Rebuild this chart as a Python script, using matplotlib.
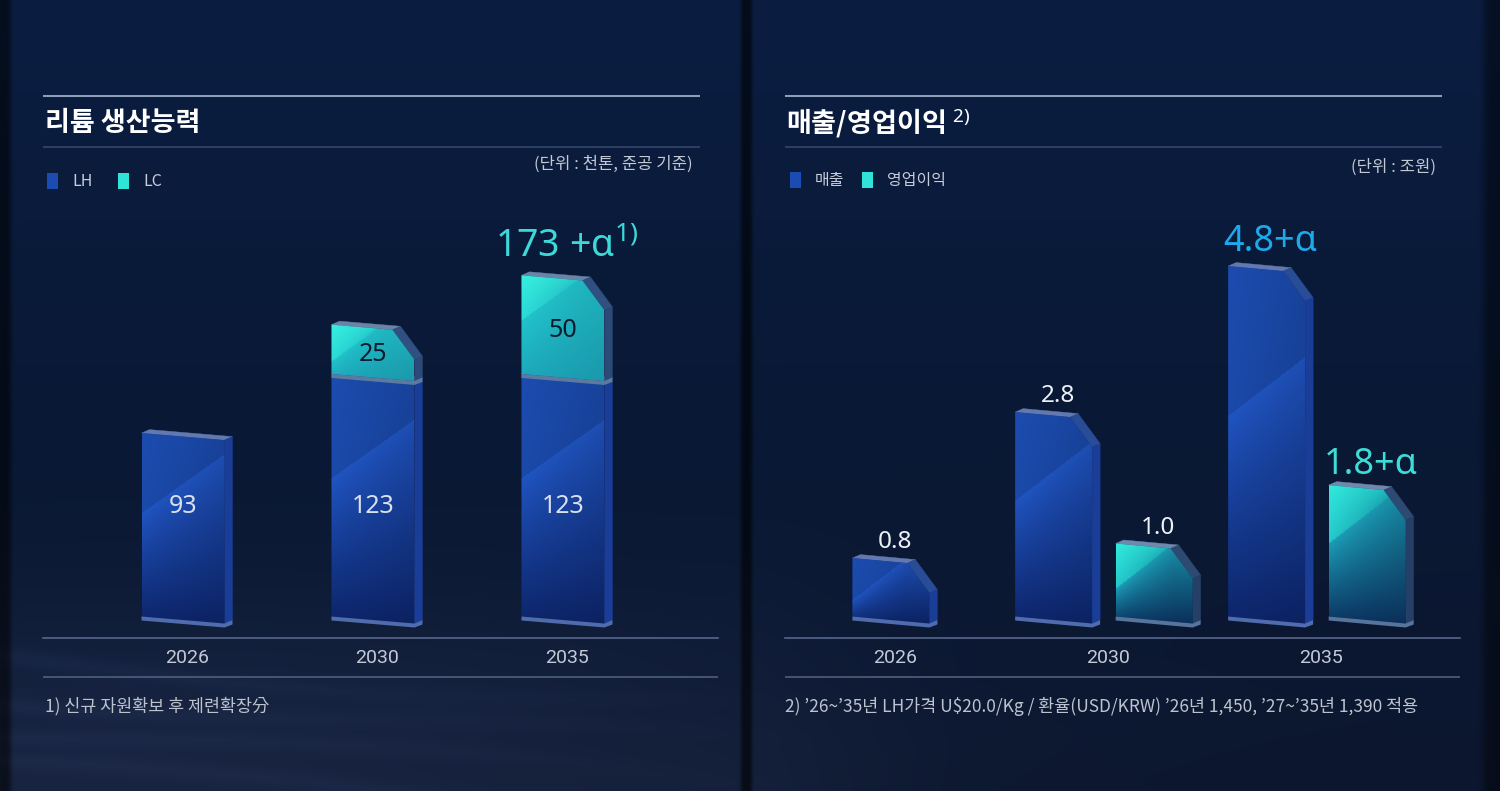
import numpy as np
import matplotlib
matplotlib.use("Agg")
import matplotlib.pyplot as plt
from matplotlib.patches import Polygon
from matplotlib.colors import to_rgb

# ---------------- data ----------------
years = ["2026", "2030", "2035"]
lh_capacity = [93, 123, 123]          # 천톤
lc_capacity = [0, 25, 50]             # 천톤
capacity_top_label = "173 +α"
revenue = [0.8, 2.8, 4.8]             # 조원
op_profit = [None, 1.0, 1.8]          # 조원
revenue_labels = ["0.8", "2.8", "4.8+α"]
profit_labels = [None, "1.0", "1.8+α"]

left_title = "리튬 생산능력"
right_title = "매출/영업이익"
left_legend = ["LH", "LC"]
right_legend = ["매출", "영업이익"]
left_unit = "(단위 : 천톤, 준공 기준)"
right_unit = "(단위 : 조원)"
left_note = "1) 신규 자원확보 후 제련확장分"
right_note = "2) ’26~’35년 LH가격 U$20.0/Kg / 환율(USD/KRW) ’26년 1,450, ’27~’35년 1,390 적용"

# ---------------- style ----------------
KR = ["Noto Sans CJK KR", "DejaVu Sans"]
NUM = ["Noto Sans", "DejaVu Sans"]
plt.rcParams["mathtext.fontset"] = "custom"
plt.rcParams["mathtext.rm"] = "Noto Sans"
plt.rcParams["mathtext.it"] = "Noto Sans:italic"
plt.rcParams["mathtext.bf"] = "Noto Sans:bold"

BLUE = "#1a4cb2"
CYAN = "#2fe3d8"

FW, FH = 1500, 791
fig = plt.figure(figsize=(15, 7.91), dpi=100)

# ---------------- background ----------------
yy, xx = np.mgrid[0:FH, 0:FW].astype(float)
top = np.array(to_rgb("#0b1e42"))
mid = np.array(to_rgb("#091834"))
bot = np.array(to_rgb("#111b33"))
t = yy / FH
w1 = np.clip(t / 0.55, 0, 1)[..., None]
w2 = np.clip((t - 0.55) / 0.45, 0, 1)[..., None]
bg = top * (1 - w1) + mid * w1
bg = bg * (1 - w2) + bot * w2
# haze + soft streaks in lower-left
haze = np.exp(-((xx - 150) / 700) ** 2) * (1 / (1 + np.exp(-(yy - 620) / 40)))
bg += haze[..., None] * np.array([0.03, 0.035, 0.05])
for k in range(4):
    cy = 655 + 38 * k + 0.07 * xx + 12 * np.sin(xx / 200 + 1.3 * k)
    streak = np.exp(-((yy - cy) / 9) ** 2) * np.clip(1 - xx / 850, 0, 1)
    bg += streak[..., None] * np.array([0.018, 0.022, 0.032])
# right-panel lower area slightly darker
bg -= (np.clip((xx - 760) / 200, 0, 1) * np.clip((yy - 500) / 300, 0, 1))[..., None] * 0.02
# dark separators
sep = np.exp(-((xx - 746) / 6) ** 4) * 0.6 + np.exp(-((xx - 3) / 8) ** 4) * 0.55 \
    + np.exp(-((xx - 1496) / 14) ** 4) * 0.45
bg *= (1 - sep)[..., None]
bg = np.clip(bg, 0, 1)

bgax = fig.add_axes([0, 0, 1, 1])
bgax.imshow(bg, extent=[0, FW, FH, 0], aspect="auto", zorder=0)
bgax.set_xlim(0, FW)
bgax.set_ylim(FH, 0)
bgax.axis("off")

# decorative rules
for x0, x1 in [(43, 700), (785, 1442)]:
    bgax.plot([x0, x1], [96, 96], color="#8c9db8", lw=1.5, solid_capstyle="butt")
    bgax.plot([x0, x1], [147, 147], color="#34476a", lw=1.2, solid_capstyle="butt")
for x0, x1 in [(43, 718), (785, 1460)]:
    bgax.plot([x0, x1], [677, 677], color="#4f5f7c", lw=1.2, solid_capstyle="butt")

# titles
bgax.text(45, 123, left_title, family=KR, fontsize=19.5, fontweight="bold",
          color="white", va="center", ha="left")
bgax.text(786, 123, right_title + r" $^{\mathrm{2)}}$", family=KR, fontsize=19.5,
          fontweight="bold", color="white", va="center", ha="left")

# legends
def legend(x, y, items, colors, gaps):
    for (lab, col, g) in zip(items, colors, gaps):
        bgax.add_patch(plt.Rectangle((x + g, y - 8), 11, 16, color=col, lw=0))
        bgax.text(x + g + 25, y, lab, family=KR, fontsize=11.5, color="#c7cdd9",
                  va="center", ha="left")

legend(47, 181, left_legend, [BLUE, CYAN], [0, 71])
legend(790, 180, right_legend, [BLUE, CYAN], [0, 72])

bgax.text(693, 164, left_unit, family=KR, fontsize=12, color="#c2c8d4",
          va="center", ha="right")
bgax.text(1436, 167, right_unit, family=KR, fontsize=12, color="#c2c8d4",
          va="center", ha="right")

bgax.text(45, 706, left_note, family=KR, fontsize=12.5, color="#bcc3cf",
          va="center", ha="left")
bgax.text(785, 706, right_note, family=KR, fontsize=12.5, color="#bcc3cf",
          va="center", ha="left")

# ---------------- bar drawing helpers ----------------
def hexs(c):
    return np.array(to_rgb(c))

PAL = {
    "blue": dict(tl="#1c4cb0", da="#1a47a4", db="#2055c2", bot="#0d256a",
                 top="#6179b0", cham="#284c96", side="#1a3e98", base="#4f6cae"),
    "cyanL": dict(tl="#36f0e1", da="#22c4cc", db="#22c4cc", bot="#1ca6bb",
                  top="#6a84a8", cham="#2f5080", side="#2b4a78", base="#5a7aa0"),
    "cyanR": dict(tl="#31ebdd", da="#18a6b8", db="#1c9fb8", bot="#0b3462",
                  top="#7088ad", cham="#2d4b72", side="#253f66", base="#56749c"),
}


def face_image(hpx, wpx, p):
    h = max(int(round(hpx)), 4)
    w = max(int(round(wpx)), 4)
    r = np.arange(h, dtype=float)[:, None] * np.ones((1, w))
    c = np.ones((h, 1)) * (np.arange(w, dtype=float)[None, :] / (w - 1))
    dl = max(0.42 * h, min(0.65 * h, 45.0))
    dr = dl - 58.0
    diag = np.maximum(dl + (dr - dl) * c, 1.0)
    above = r < diag
    ta = np.clip(0.5 * c + 0.5 * r / diag, 0, 1)[..., None]
    img_a = hexs(p["tl"]) * (1 - ta) + hexs(p["da"]) * ta
    f = np.clip((r - diag) / np.maximum(h - diag, 1), 0, 1)[..., None] ** 0.9
    img_b = hexs(p["db"]) * (1 - f) + hexs(p["bot"]) * f
    img = np.where(above[..., None], img_a, img_b)
    img = img * (1 - 0.08 * c[..., None])
    return np.clip(img, 0, 1)


def draw_bar(ax, xc, y0, y1, ux, uy, wpx, pal, chamfer):
    p = PAL[pal]
    dxp = 8.0
    W = wpx * ux
    dx = dxp * ux
    xl = xc - (W + dx) / 2
    xr = xl + W
    sh = 3.5 * uy
    BL = np.array([xl, y0 + sh]); BR = np.array([xr, y0 - sh])
    TL = np.array([xl, y1 + sh]); TR = np.array([xr, y1 - sh])
    if chamfer:
        frac = (wpx - 22.0) / wpx
        C1 = np.array([xl + frac * W, y1 + sh - 2 * sh * frac])
        C2 = np.array([xr, y1 - sh - 28 * uy])
        front = [BL, TL, C1, C2, BR]
        edges = [(TL, C1, "top"), (C1, C2, "cham"), (C2, BR, "side")]
    else:
        front = [BL, TL, TR, BR]
        edges = [(TL, TR, "top"), (TR, BR, "side")]
    o = np.array([dx, 3.5 * uy])
    for a, b, kind in edges:
        ax.add_patch(Polygon([a, b, b + o, a + o], closed=True,
                             facecolor=p[kind], edgecolor=p[kind], lw=0.3, zorder=3))
    poly = Polygon(front, closed=True, facecolor="none", edgecolor="none", zorder=3)
    ax.add_patch(poly)
    ymin, ymax = BR[1], TL[1]
    img = face_image((ymax - ymin) / uy, wpx, p)
    im = ax.imshow(img, extent=[xl, xr, ymin, ymax], aspect="auto",
                   interpolation="bilinear", zorder=3)
    im.set_clip_path(poly)
    base = [BL, BR, BR + o, np.array([xr + dx, BR[1] - 1 * uy]),
            np.array([xr, BR[1] - 4 * uy]), np.array([xl, BL[1] - 4 * uy])]
    ax.add_patch(Polygon(base, closed=True, facecolor=p["base"],
                         edgecolor="none", zorder=3))
    return xl + W / 2


def setup_axis(ax, xlim, ylim):
    ax.set_xlim(*xlim)
    ax.set_ylim(*ylim)
    ax.patch.set_alpha(0)
    for s in ["top", "right", "left"]:
        ax.spines[s].set_visible(False)
    ax.spines["bottom"].set_color("#56668a")
    ax.spines["bottom"].set_linewidth(1.2)
    ax.set_yticks([])
    ax.set_xticks(range(len(years)))
    ax.set_xticklabels(years, family=["Roboto", "DejaVu Sans"], fontsize=14,
                       color="#c3cad6")
    ax.tick_params(axis="x", length=0, pad=8)


def px_axes(x0, x1, ytop, ybot):
    return fig.add_axes([x0 / FW, 1 - ybot / FH, (x1 - x0) / FW, (ybot - ytop) / FH])

# ---------------- left chart: capacity ----------------
axL = px_axes(43, 718, 200, 638)
xlimL = (-0.758, 2.795)
ppuL = 1.972  # px per value unit
ylimL = (-18 / ppuL, 420 / ppuL)
setup_axis(axL, xlimL, ylimL)
uxL = (xlimL[1] - xlimL[0]) / 675.0
uyL = (ylimL[1] - ylimL[0]) / 438.0

lh_label_y = 0.62 * min(lh_capacity)
for i, (lh, lc) in enumerate(zip(lh_capacity, lc_capacity)):
    fc = draw_bar(axL, i, 0, lh, uxL, uyL, 83, "blue", chamfer=False)
    axL.text(fc, lh_label_y, str(lh), family=NUM, fontsize=18, color="#d9e0ee",
             ha="center", va="center", zorder=5)
    if lc:
        fc = draw_bar(axL, i, lh, lh + lc, uxL, uyL, 83, "cyanL", chamfer=True)
        axL.text(fc, lh + lc / 2 - 1, str(lc), family=NUM, fontsize=18,
                 color="#0b1a2e", ha="center", va="center", zorder=5)

top_i = len(lh_capacity) - 1
axL.annotate(capacity_top_label + r"$^{\mathrm{1)}}$",
             xy=(top_i, lh_capacity[top_i] + lc_capacity[top_i]),
             xytext=(0, 9), textcoords="offset points", family=NUM,
             fontsize=27, fontweight=500, color="#3dd8d8", ha="center",
             va="bottom", zorder=5)

# ---------------- right chart: revenue / operating profit ----------------
axR = px_axes(785, 1460, 200, 638)
xlimR = (-0.516, 2.653)
ppuR = 73.0
ylimR = (-18 / ppuR, 420 / ppuR)
setup_axis(axR, xlimR, ylimR)
uxR = (xlimR[1] - xlimR[0]) / 675.0
uyR = (ylimR[1] - ylimR[0]) / 438.0
off = 0.236

for i in range(len(years)):
    rv, op = revenue[i], op_profit[i]
    xr_c = i if op is None else i - off
    draw_bar(axR, xr_c, 0, rv, uxR, uyR, 77, "blue", chamfer=True)
    big = "α" in revenue_labels[i]
    axR.annotate(revenue_labels[i], xy=(xr_c, rv), xytext=(0, 20 if big else 14),
                 textcoords="offset points", family=NUM,
                 fontsize=26 if big else 17.5, fontweight=500 if big else "normal",
                 color="#1ea9ea" if big else "#eef2f8",
                 ha="center", va="center", zorder=5)
    if op is not None:
        draw_bar(axR, i + off, 0, op, uxR, uyR, 77, "cyanR", chamfer=True)
        big = "α" in profit_labels[i]
        axR.annotate(profit_labels[i], xy=(i + off, op), xytext=(0, 17 if big else 14),
                     textcoords="offset points", family=NUM,
                     fontsize=26 if big else 17.5, fontweight=500 if big else "normal",
                     color="#3edcd6" if big else "#eef2f8",
                     ha="center", va="center", zorder=5)

fig.savefig("out.png", dpi=100)
